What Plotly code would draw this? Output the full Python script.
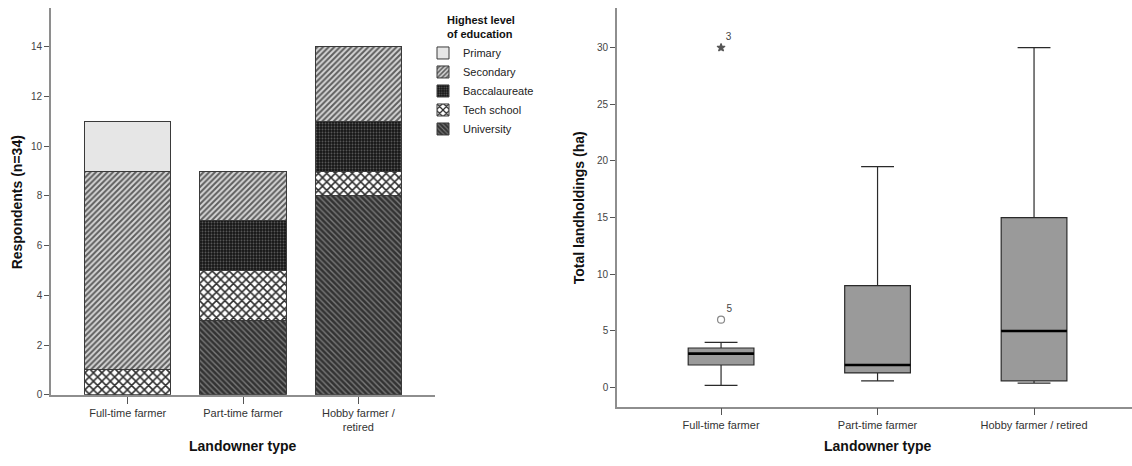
import plotly.graph_objects as go

# ---------------- data ----------------
categories = ["Full-time farmer", "Part-time farmer", "Hobby farmer / retired"]
bar_ticktext = ["Full-time farmer", "Part-time farmer", "Hobby farmer /<br>retired"]

# stacked counts (bottom to top)
university = [0, 3, 8]
tech_school = [1, 2, 1]
baccalaureate = [0, 2, 2]
secondary = [8, 2, 3]
primary = [2, 0, 0]

# boxplot statistics of total landholdings (ha)
box_lowerfence = [0.2, 0.6, 0.4]
box_q1 = [2.0, 1.3, 0.6]
box_median = [3.0, 2.0, 5.0]
box_q3 = [3.5, 9.0, 15.0]
box_upperfence = [4.0, 19.5, 30.0]

# outliers
outlier_cat = ["Full-time farmer", "Full-time farmer"]
outlier_val = [30, 6]
outlier_case = ["3", "5"]
outlier_symbol = ["star", "circle-open"]

FONT = "Liberation Sans, Arial, sans-serif"
W, H = 1132, 466

fig = go.Figure()

series = [
    ("University", university, dict(shape="\\", bgcolor="#333333", fgcolor="#7a7a7a", size=4, solidity=0.35)),
    ("Tech school", tech_school, dict(shape="x", bgcolor="#ffffff", fgcolor="#2e2e2e", size=6, solidity=0.45)),
    ("Baccalaureate", baccalaureate, dict(shape=".", bgcolor="#141414", fgcolor="#5a5a5a", size=3, solidity=0.35)),
    ("Secondary", secondary, dict(shape="/", bgcolor="#d6d6d6", fgcolor="#5e5e5e", size=4, solidity=0.5)),
    ("Primary", primary, None),
]

for name, vals, pat in series:
    marker = dict(line=dict(color="#3a3a3a", width=1))
    if pat is None:
        marker["color"] = "#e6e6e6"
    else:
        marker["color"] = pat["bgcolor"]
        marker["pattern"] = dict(shape=pat["shape"], bgcolor=pat["bgcolor"], fgcolor=pat["fgcolor"],
                                 size=pat["size"], solidity=pat["solidity"], fillmode="replace")
    fig.add_trace(go.Bar(x=categories, y=vals, name=name, marker=marker,
                         xaxis="x", yaxis="y", hoverinfo="x+y+name"))

# box plot
fig.add_trace(go.Box(
    x=categories, q1=box_q1, median=box_median, q3=box_q3,
    lowerfence=box_lowerfence, upperfence=box_upperfence,
    fillcolor="#9a9a9a", line=dict(color="#2a2a2a", width=1.2),
    whiskerwidth=0.5, boxpoints=False, showlegend=False,
    xaxis="x2", yaxis="y2", name="Total landholdings"))

# thick median lines (degenerate box at the median)
fig.add_trace(go.Box(
    x=categories, q1=box_median, median=box_median, q3=box_median,
    lowerfence=box_median, upperfence=box_median,
    fillcolor="rgba(0,0,0,0)", line=dict(color="#000000", width=2.6),
    whiskerwidth=0, boxpoints=False, showlegend=False,
    xaxis="x2", yaxis="y2", name="Median", hoverinfo="skip"))

# outliers
fig.add_trace(go.Scatter(
    x=outlier_cat, y=outlier_val, mode="markers+text",
    text=outlier_case, textposition="top right",
    textfont=dict(family=FONT, size=10, color="#444444"),
    marker=dict(symbol=outlier_symbol, size=[6, 7], color=["#111111", "#555555"],
                line=dict(width=1.2, color=["#111111", "#555555"])),
    showlegend=False, xaxis="x2", yaxis="y2", cliponaxis=False))

axis_common = dict(showline=True, linecolor="#8e8e8e", linewidth=1.6, showgrid=False, zeroline=False,
                   ticks="outside", ticklen=7, tickcolor="#555555", tickwidth=1.4,
                   tickfont=dict(family=FONT, size=11, color="#333333"))
yfont = dict(family=FONT, size=10, color="#444444")

fig.update_layout(
    width=W, height=H, autosize=False,
    margin=dict(l=0, r=0, t=0, b=0),
    paper_bgcolor="white", plot_bgcolor="white",
    barmode="stack", bargap=0.25, boxmode="overlay", boxgap=0.4,
    font=dict(family=FONT, color="#222222"),
    xaxis=dict(domain=[51 / W, 435 / W], anchor="y", type="category", range=[-0.665, 2.665],
               tickmode="array", tickvals=categories, ticktext=bar_ticktext, **axis_common),
    yaxis=dict(domain=[(H - 400) / H, (H - 8) / H], anchor="x", range=[0, 15.56],
               tickmode="array", tickvals=list(range(0, 15, 2)),
               **{**axis_common, "tickfont": yfont, "ticklen": 5}),
    xaxis2=dict(domain=[617 / W, 1.0], anchor="y2", type="category", range=[-0.665, 2.626],
                **axis_common),
    yaxis2=dict(domain=[(H - 412) / H, (H - 8) / H], anchor="x2", range=[-1.68, 33.5],
                tickmode="array", tickvals=list(range(0, 31, 5)),
                **{**axis_common, "tickfont": yfont, "ticklen": 5}),
    legend=dict(
        x=423 / W, xanchor="left", y=(H - 10) / H, yanchor="top",
        traceorder="reversed", bgcolor="rgba(0,0,0,0)",
        font=dict(family=FONT, size=11, color="#222222"),
        title=dict(text="<b>Highest level<br>of education</b>", side="top center",
                   font=dict(family=FONT, size=11, color="#111111")),
        itemwidth=30, tracegroupgap=0,
    ),
    showlegend=True,
)

title_font = dict(family=FONT, size=14, color="#111111")
fig.add_annotation(text="<b>Landowner type</b>", xref="paper", yref="paper",
                   x=243 / W, y=(H - 452) / H, showarrow=False, font=title_font,
                   xanchor="center", yanchor="middle")
fig.add_annotation(text="<b>Landowner type</b>", xref="paper", yref="paper",
                   x=878 / W, y=(H - 452) / H, showarrow=False, font=title_font,
                   xanchor="center", yanchor="middle")
fig.add_annotation(text="<b>Respondents (n=34)</b>", xref="paper", yref="paper",
                   x=17 / W, y=(H - 205) / H, showarrow=False, font=title_font, textangle=-90,
                   xanchor="center", yanchor="middle")
fig.add_annotation(text="<b>Total landholdings (ha)</b>", xref="paper", yref="paper",
                   x=579 / W, y=(H - 211) / H, showarrow=False, font=title_font, textangle=-90,
                   xanchor="center", yanchor="middle")

fig.write_html("out.html",
               config={"displayModeBar": False, "responsive": False},
               post_script="document.body.style.margin='0';document.body.style.overflow='hidden';")
